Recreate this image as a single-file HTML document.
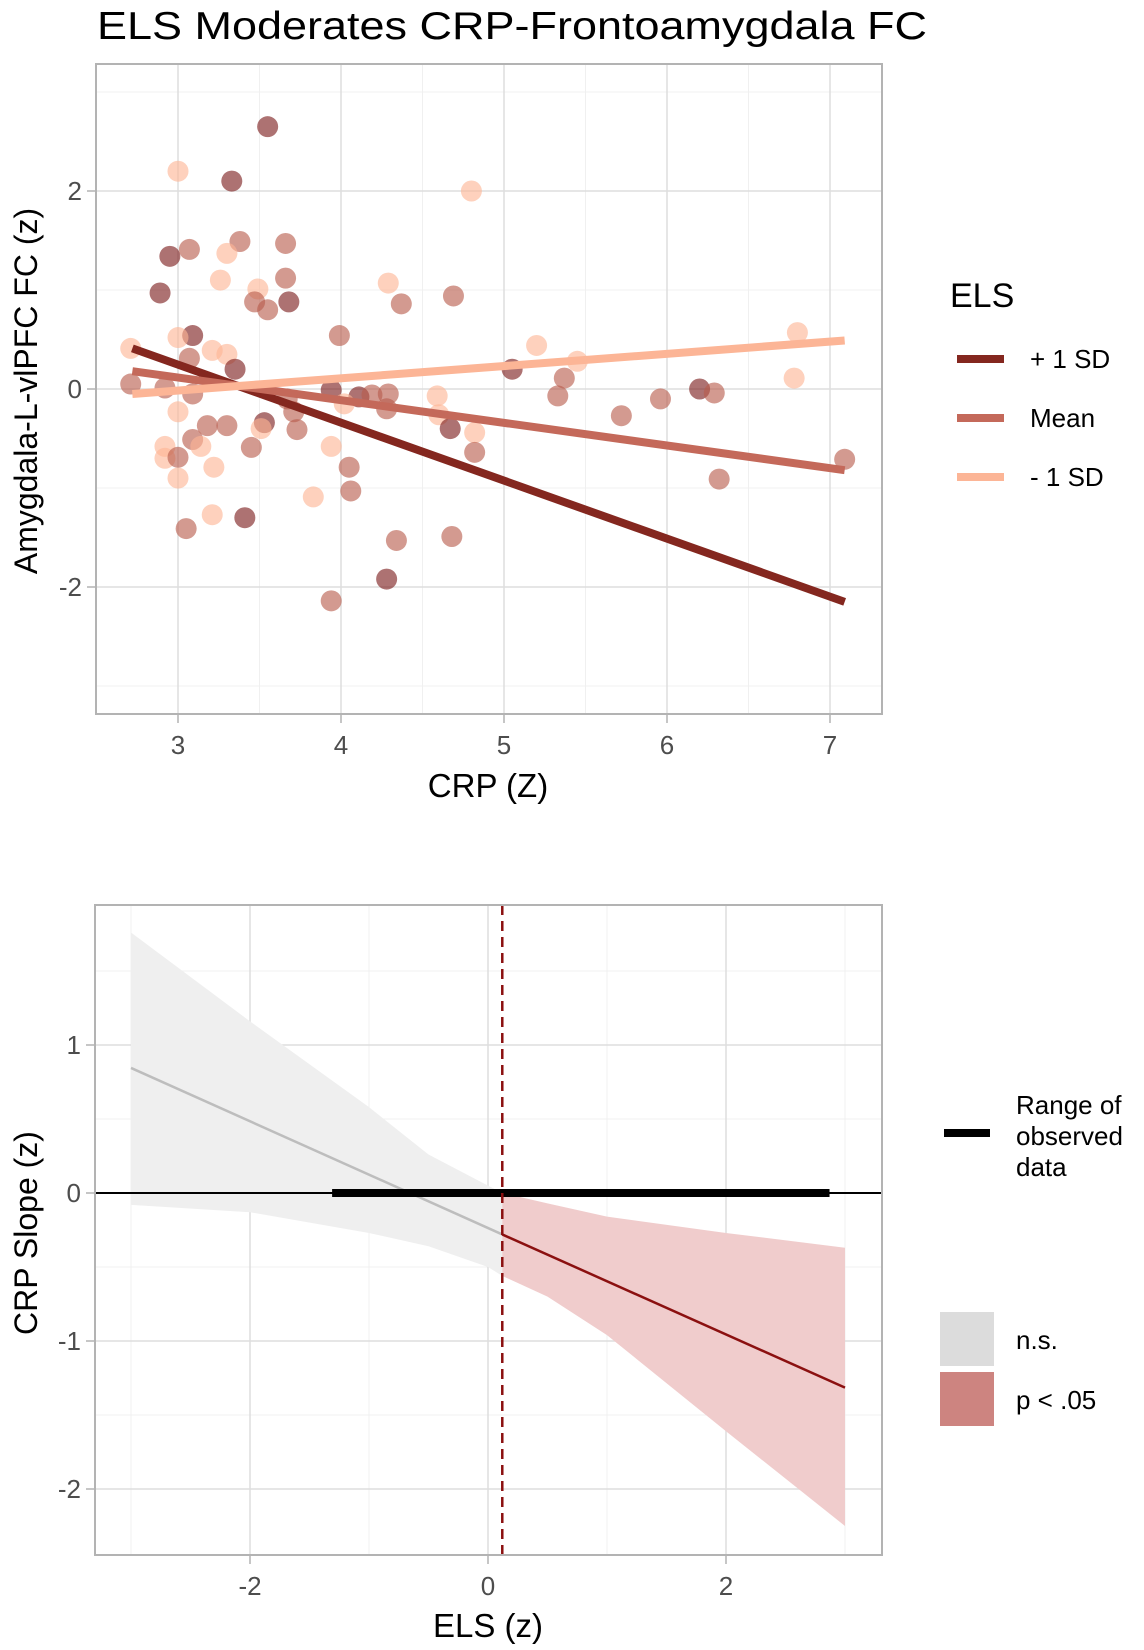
<!DOCTYPE html>
<html><head><meta charset="utf-8"><style>
html,body{margin:0;padding:0;background:#fff;}
svg{display:block;font-family:"Liberation Sans",Arial,sans-serif;}
</style></head><body>
<svg id="fig" width="1144" height="1650" viewBox="0 0 1144 1650" xmlns="http://www.w3.org/2000/svg">
<text x="97" y="39" font-size="39" fill="#000" textLength="830" lengthAdjust="spacingAndGlyphs">ELS Moderates CRP-Frontoamygdala FC</text>
<g id="top"></g>
<g id="bot"></g>
</svg>
<script>
// ---------- Top chart data ----------
const crpX   = [3.55,3.33,3.0,4.8,2.95,3.07,3.38,3.3,3.66,2.89,3.26,3.66,3.49,3.47,3.55,3.68,4.29,4.37,4.69,3.09,3.0,3.99,2.71,3.07,3.21,3.3,3.35,5.2,5.45,5.05,5.37,6.8,6.78,2.71,2.92,3.09,3.0,3.94,4.11,4.19,4.29,4.28,4.02,3.67,3.71,4.59,4.6,5.33,5.96,6.2,6.29,5.72,4.67,4.82,4.82,7.09,6.32,3.53,3.51,3.18,3.3,3.73,3.09,3.14,3.45,2.92,2.92,3.0,3.0,3.22,3.94,4.05,4.06,3.83,3.41,3.05,3.21,4.34,4.68,4.28,3.94];
const fcY    = [2.65,2.10,2.2,2.0,1.34,1.41,1.49,1.37,1.47,0.97,1.1,1.12,1.01,0.88,0.8,0.88,1.07,0.86,0.94,0.54,0.52,0.54,0.41,0.31,0.39,0.35,0.2,0.44,0.28,0.2,0.11,0.57,0.11,0.05,0.01,-0.05,-0.23,-0.01,-0.08,-0.06,-0.05,-0.2,-0.15,-0.1,-0.23,-0.07,-0.26,-0.07,-0.1,0.0,-0.04,-0.27,-0.4,-0.44,-0.64,-0.71,-0.91,-0.34,-0.4,-0.37,-0.37,-0.41,-0.51,-0.58,-0.59,-0.58,-0.7,-0.69,-0.9,-0.79,-0.58,-0.79,-1.03,-1.09,-1.3,-1.41,-1.27,-1.53,-1.49,-1.92,-2.14];
const elsGrp = ["h","h","l","l","h","m","m","l","m","h","l","m","l","m","m","h","l","m","m","h","l","m","l","m","l","l","h","l","l","h","m","l","l","m","m","m","l","h","h","m","m","m","l","m","m","l","l","m","m","h","m","m","h","l","m","m","m","h","l","m","m","m","m","l","m","l","l","m","l","l","l","m","m","l","h","m","l","m","m","h","m"];
const lineGroups = ["h","m","l"];
const lineLabels = ["+ 1 SD","Mean","- 1 SD"];
const lineX0 = [2.72,2.72,2.72];
const lineX1 = [7.09,7.09,7.09];
const lineY0 = [0.41,0.18,-0.05];
const lineY1 = [-2.15,-0.82,0.49];
const topXTicks = [3,4,5,6,7];
const topYTicks = [-2,0,2];
// ---------- Bottom chart data ----------
const lineEls = [-3,0.12,3];
const lineSlope = [0.845,-0.28,-1.315];
const bandX = [-3,-2,-1,-0.5,0,0.12,0.5,1,2,3];
const bandUpper = [1.76,1.16,0.58,0.26,0.05,0.0,-0.07,-0.16,-0.27,-0.37];
const bandLower = [-0.08,-0.13,-0.27,-0.36,-0.5,-0.56,-0.7,-0.96,-1.61,-2.25];
const sigCut = [0.12];
const obsRange = [-1.31,2.87];
const botXTicks = [-2,0,2];
const botYTicks = [-2,-1,0,1];

const NS="http://www.w3.org/2000/svg";
function mk(parent,tag,attrs,text){const e=document.createElementNS(NS,tag);for(const k in attrs)e.setAttribute(k,attrs[k]);if(text!==undefined)e.textContent=text;parent.appendChild(e);return e;}
const col={h:"#7a1c1c",m:"#b85c4c",l:"#fdb495"};
const lcol={h:"#84271f",m:"#c4695a",l:"#fcb596"};

// ===== Top =====
const T=document.getElementById('top');
const tx=v=>178+(v-3)*163, ty=v=>389-v*99;
mk(T,'rect',{x:96,y:64,width:786,height:650,fill:'#fff'});
[3.5,4.5,5.5,6.5].forEach(v=>mk(T,'line',{x1:tx(v),x2:tx(v),y1:64,y2:714,stroke:'#f0f0f0','stroke-width':1}));
[-3,-1,1,3].forEach(v=>mk(T,'line',{x1:96,x2:882,y1:ty(v),y2:ty(v),stroke:'#f0f0f0','stroke-width':1}));
topXTicks.forEach(v=>mk(T,'line',{x1:tx(v),x2:tx(v),y1:64,y2:714,stroke:'#dedede','stroke-width':1.5}));
topYTicks.forEach(v=>mk(T,'line',{x1:96,x2:882,y1:ty(v),y2:ty(v),stroke:'#dedede','stroke-width':1.5}));
for(let i=0;i<crpX.length;i++){
  const c=mk(T,'circle',{cx:tx(crpX[i]),cy:ty(fcY[i]),r:10.5,fill:col[elsGrp[i]],'fill-opacity':0.62});
  
  
}
for(let i=0;i<lineGroups.length;i++){
  const l=mk(T,'line',{x1:tx(lineX0[i]),y1:ty(lineY0[i]),x2:tx(lineX1[i]),y2:ty(lineY1[i]),stroke:lcol[lineGroups[i]],'stroke-width':8});
  
  
}
mk(T,'rect',{x:96,y:64,width:786,height:650,fill:'none',stroke:'#b3b3b3','stroke-width':2});
topXTicks.forEach(v=>{mk(T,'line',{x1:tx(v),x2:tx(v),y1:714,y2:723,stroke:'#b3b3b3','stroke-width':1.5});
  const t=mk(T,'text',{x:tx(v),y:754,'text-anchor':'middle','font-size':26,fill:'#4d4d4d'},String(v));
  });
topYTicks.forEach(v=>{mk(T,'line',{x1:87,x2:96,y1:ty(v),y2:ty(v),stroke:'#b3b3b3','stroke-width':1.5});
  const t=mk(T,'text',{x:82,y:ty(v)+9,'text-anchor':'end','font-size':26,fill:'#4d4d4d'},v<0?'-'+Math.abs(v):String(v));
  });
let e=mk(T,'text',{x:488,y:797,'text-anchor':'middle','font-size':33,fill:'#000'},'CRP (Z)');

e=mk(T,'text',{x:0,y:0,'text-anchor':'middle','font-size':32,fill:'#000',transform:'translate(37,391) rotate(-90)'},'Amygdala-L-vlPFC FC (z)');

e=mk(T,'text',{x:950,y:307,'font-size':34,fill:'#000'},'ELS');

const ky=[359,418,477];
for(let i=0;i<lineGroups.length;i++){
  e=mk(T,'line',{x1:957,x2:1004,y1:ky[i],y2:ky[i],stroke:lcol[lineGroups[i]],'stroke-width':8});
  
  e=mk(T,'text',{x:1030,y:ky[i]+9,'font-size':26,fill:'#000'},lineLabels[i]);
  
}

// ===== Bottom =====
const B=document.getElementById('bot');
const bx=v=>488+v*119, by=v=>1193-v*148;
[-3,-1,1,3].forEach(v=>mk(B,'line',{x1:bx(v),x2:bx(v),y1:905,y2:1555,stroke:'#f0f0f0','stroke-width':1}));
[-1.5,-0.5,0.5,1.5].forEach(v=>mk(B,'line',{x1:95,x2:882,y1:by(v),y2:by(v),stroke:'#f0f0f0','stroke-width':1}));
botXTicks.forEach(v=>mk(B,'line',{x1:bx(v),x2:bx(v),y1:905,y2:1555,stroke:'#dedede','stroke-width':1.5}));
botYTicks.forEach(v=>mk(B,'line',{x1:95,x2:882,y1:by(v),y2:by(v),stroke:'#dedede','stroke-width':1.5}));
function band(sel,fill,name){
  const idx=bandX.map((v,i)=>i).filter(sel);
  let d='M'+idx.map(i=>bx(bandX[i])+','+by(bandUpper[i])).join(' L');
  d+=' L'+idx.slice().reverse().map(i=>bx(bandX[i])+','+by(bandLower[i])).join(' L')+' Z';
  const p=mk(B,'path',{d:d,fill:fill});
  
}
band(i=>bandX[i]<=sigCut[0],'#efefef','ci-band-ns');
band(i=>bandX[i]>=sigCut[0],'#f0cccc','ci-band-sig');
e=mk(B,'line',{x1:bx(lineEls[0]),y1:by(lineSlope[0]),x2:bx(lineEls[1]),y2:by(lineSlope[1]),stroke:'#bdbdbd','stroke-width':2.5});

e=mk(B,'line',{x1:bx(lineEls[1]),y1:by(lineSlope[1]),x2:bx(lineEls[2]),y2:by(lineSlope[2]),stroke:'#8b1010','stroke-width':2.5});

e=mk(B,'line',{x1:95,x2:882,y1:by(0),y2:by(0),stroke:'#000','stroke-width':2});

e=mk(B,'line',{x1:bx(obsRange[0]),x2:bx(obsRange[1]),y1:by(0),y2:by(0),stroke:'#000','stroke-width':8});

e=mk(B,'line',{x1:bx(sigCut[0]),x2:bx(sigCut[0]),y1:905,y2:1555,stroke:'#8b1010','stroke-width':2.5,'stroke-dasharray':'10,6'});

mk(B,'rect',{x:95,y:905,width:787,height:650,fill:'none',stroke:'#b3b3b3','stroke-width':2});
botXTicks.forEach(v=>{mk(B,'line',{x1:bx(v),x2:bx(v),y1:1555,y2:1564,stroke:'#b3b3b3','stroke-width':1.5});
  const t=mk(B,'text',{x:bx(v),y:1595,'text-anchor':'middle','font-size':26,fill:'#4d4d4d'},v<0?'-'+Math.abs(v):String(v));
  });
botYTicks.forEach(v=>{mk(B,'line',{x1:86,x2:95,y1:by(v),y2:by(v),stroke:'#b3b3b3','stroke-width':1.5});
  const t=mk(B,'text',{x:81,y:by(v)+9,'text-anchor':'end','font-size':26,fill:'#4d4d4d'},v<0?'-'+Math.abs(v):String(v));
  });
e=mk(B,'text',{x:488,y:1637,'text-anchor':'middle','font-size':33,fill:'#000'},'ELS (z)');

e=mk(B,'text',{x:0,y:0,'text-anchor':'middle','font-size':32,fill:'#000',transform:'translate(37,1233) rotate(-90)'},'CRP Slope (z)');

e=mk(B,'line',{x1:944,x2:990,y1:1133,y2:1133,stroke:'#000','stroke-width':8});

['Range of','observed','data'].forEach((s,i)=>{const t=mk(B,'text',{x:1016,y:1114+i*31,'font-size':26,fill:'#000'},s);
  });
e=mk(B,'rect',{x:940,y:1312,width:54,height:54,fill:'#dcdcdc'});

e=mk(B,'rect',{x:940,y:1372,width:54,height:54,fill:'#cd8480'});

e=mk(B,'text',{x:1016,y:1349,'font-size':26,fill:'#000'},'n.s.');

e=mk(B,'text',{x:1016,y:1409,'font-size':26,fill:'#000'},'p < .05');

</script>
</body></html>
